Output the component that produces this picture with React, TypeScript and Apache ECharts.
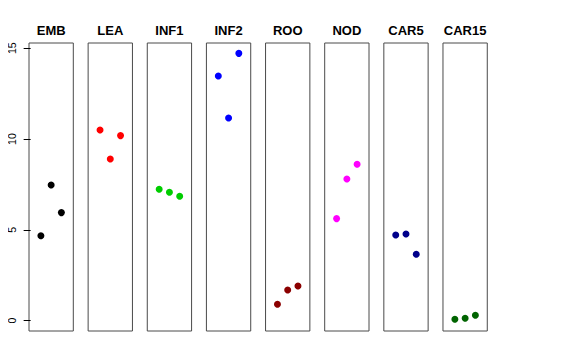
import React, { useEffect, useRef } from "react";
import * as echarts from "echarts";

const categories = ["EMB", "LEA", "INF1", "INF2", "ROO", "NOD", "CAR5", "CAR15"];
const colors = ["#000000", "#FF0000", "#00CD00", "#0000FF", "#8B0000", "#FF00FF", "#00008B", "#006400"];
const positions = [1, 2, 3];
const valEMB = [4.68, 7.47, 5.95];
const valLEA = [10.5, 8.9, 10.19];
const valINF1 = [7.24, 7.07, 6.85];
const valINF2 = [13.47, 11.16, 14.72];
const valROO = [0.9, 1.69, 1.91];
const valNOD = [5.62, 7.8, 8.61];
const valCAR5 = [4.72, 4.77, 3.66];
const valCAR15 = [0.08, 0.13, 0.3];
const yTicks = [0, 5, 10, 15];
const allValues = [valEMB, valLEA, valINF1, valINF2, valROO, valNOD, valCAR5, valCAR15];

export default function App() {
  const ref = useRef<HTMLDivElement>(null);
  useEffect(() => {
    if (!ref.current) return;
    const chart = echarts.init(ref.current, null, { renderer: "svg" });
    const step = 59.14;
    const left0 = 29;
    const width = 44.3;
    const top = 43;
    const height = 288;
    const grids = categories.map((_, i) => ({
      left: left0 + i * step,
      top,
      width,
      height,
      show: true,
      borderColor: "#4a4a4a",
      borderWidth: 1,
      backgroundColor: "transparent",
    }));
    const xAxes = categories.map((_, i) => ({
      type: "value",
      gridIndex: i,
      min: -0.16,
      max: 4.16,
      show: false,
    }));
    const yAxes = categories.map((_, i) => ({
      type: "value",
      gridIndex: i,
      min: -0.57,
      max: 15.29,
      show: i === 0,
      splitLine: { show: false },
      axisLine: { show: false },
      axisTick: {
        show: i === 0,
        length: 7,
        lineStyle: { color: "#000", width: 1 },
        customValues: yTicks,
      },
      axisLabel: {
        show: i === 0,
        rotate: 90,
        margin: 12,
        fontSize: 10.5,
        color: "#000",
        fontFamily: "Liberation Sans",
        overflow: "none",
        customValues: yTicks,
      },
    }));
    const series = categories.map((c, i) => ({
      name: c,
      type: "scatter",
      xAxisIndex: i,
      yAxisIndex: i,
      symbol: "circle",
      symbolSize: 7,
      itemStyle: { color: colors[i], opacity: 1 },
      data: positions.map((p, j) => [p, allValues[i][j]]),
    }));
    const graphic = categories.map((c, i) => ({
      type: "text",
      x: left0 + i * step + width / 2,
      y: 30,
      style: {
        text: c,
        textAlign: "center",
        textVerticalAlign: "middle",
        font: "bold 13px 'Liberation Sans', Arial, sans-serif",
        fill: "#000",
      },
    }));
    chart.setOption({
      animation: false,
      backgroundColor: "#fff",
      grid: grids,
      xAxis: xAxes,
      yAxis: yAxes,
      series,
      graphic,
    });
    return () => chart.dispose();
  }, []);
  return <div ref={ref} style={{ width: 576, height: 360, margin: -8 }} />;
}
